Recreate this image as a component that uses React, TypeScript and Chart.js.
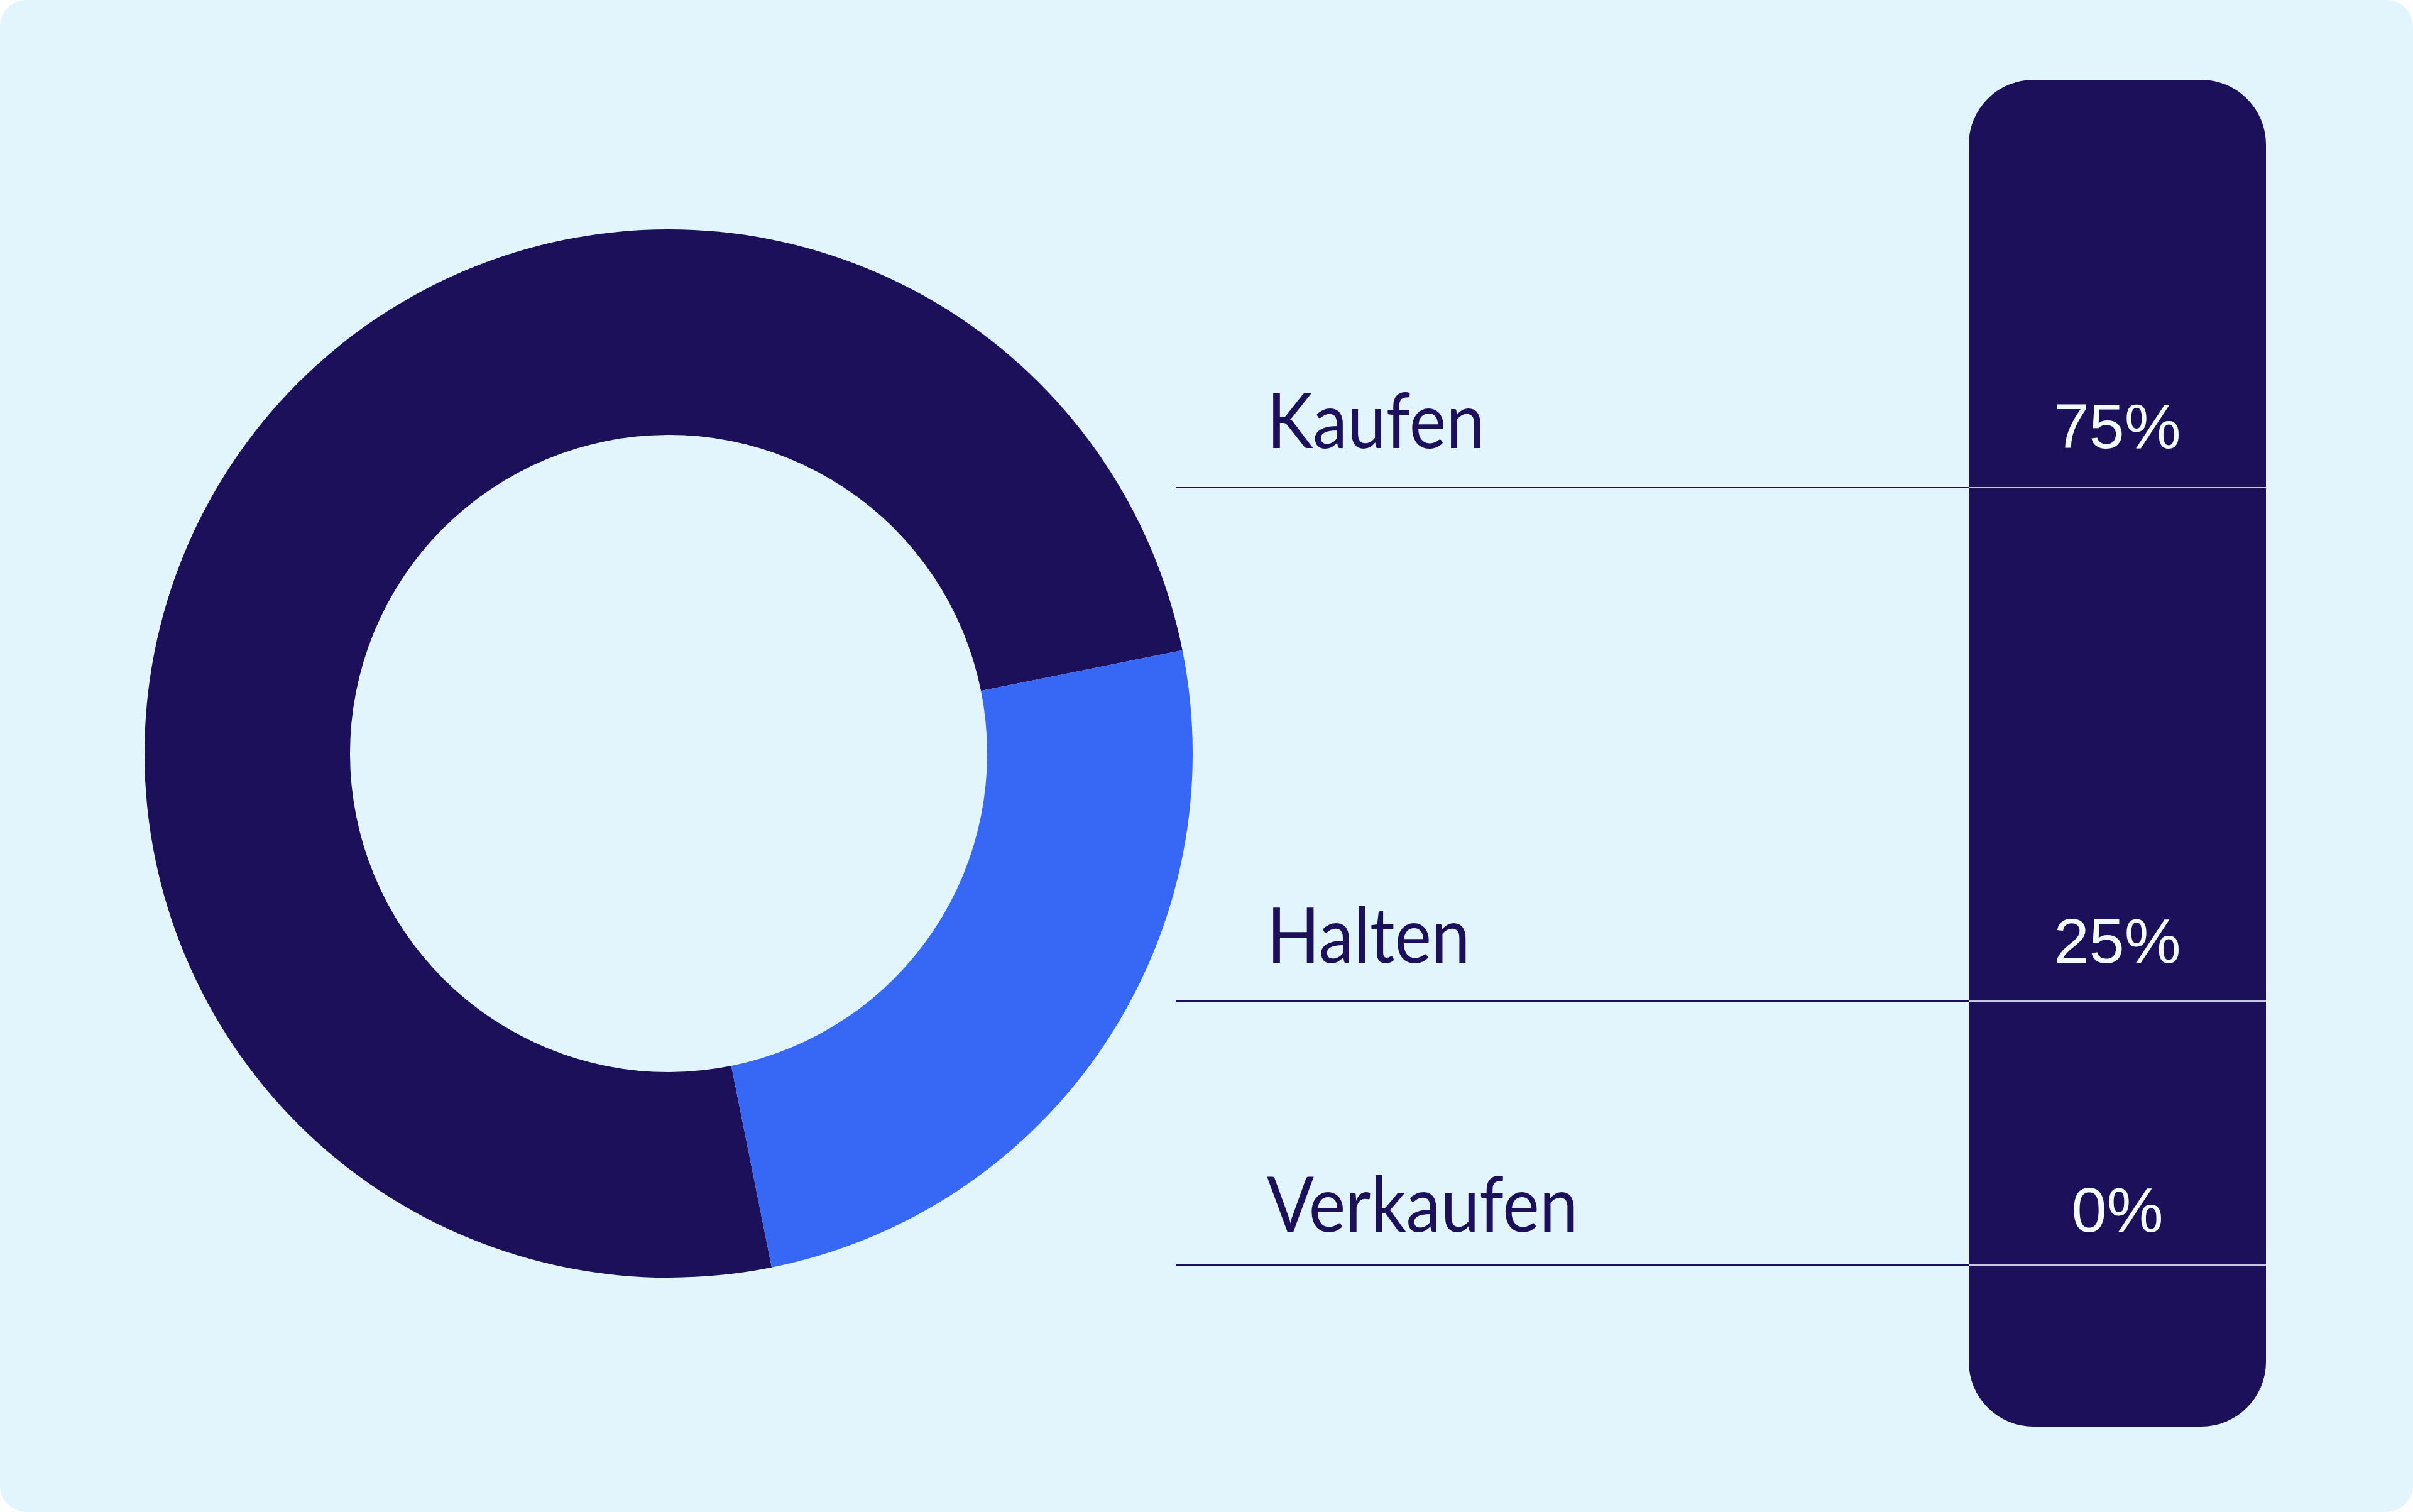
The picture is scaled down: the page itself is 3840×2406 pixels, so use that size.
import React, { useEffect, useRef } from "react";
import { Chart, registerables } from "chart.js";

Chart.register(...registerables);

// ---- data ----
const categories: string[] = ["Kaufen", "Halten", "Verkaufen"];
const shares: number[] = [75, 25, 0];
const valueLabels: string[] = ["75%", "25%", "0%"];

// ---- styles ----
const sliceColors: string[] = ["#1b1059", "#3668f5", "#9aa0c8"];
const NAVY = "#1b1059";
const CARD = "#e2f5fd";

// ---- layout (px) ----
const CHART_LEFT = 230;
const CHART_TOP = 365;
const CHART_SIZE = 1668;
const CUTOUT_PX = 507;
const ROTATION = 168.65;

const ROW_BASELINES = [713, 1532, 1960];
const ROW_LINES = [776, 1593, 2013];
const LABEL_LEFT = 2016;
const LINE_LEFT = 1871;
const PANEL_LEFT = 3133;
const PANEL_RIGHT = 3606;
const PANEL_TOP = 127;
const PANEL_BOTTOM = 2270;

const LABEL_SIZE = 123;
const VALUE_SIZE = 101;

export default function App() {
  const canvasRef = useRef<HTMLCanvasElement | null>(null);

  useEffect(() => {
    document.body.style.margin = "0";
    document.documentElement.style.overflow = "hidden";
    const canvas = canvasRef.current;
    if (!canvas) return;
    const chart = new Chart(canvas, {
      type: "doughnut",
      data: {
        labels: categories,
        datasets: [
          {
            data: shares,
            backgroundColor: sliceColors,
            borderWidth: 0,
            hoverOffset: 0,
          },
        ],
      },
      options: {
        animation: false,
        responsive: false,
        maintainAspectRatio: false,
        devicePixelRatio: 1,
        cutout: CUTOUT_PX,
        rotation: ROTATION,
        layout: { padding: 0 },
        events: [],
        plugins: {
          legend: { display: false },
          tooltip: { enabled: false },
          title: { display: false },
        },
      },
    });
    return () => chart.destroy();
  }, []);

  return (
    <div
      style={{
        position: "relative",
        width: 3840,
        height: 2406,
        background: "#ffffff",
        overflow: "hidden",
      }}
    >
      <div
        style={{
          position: "absolute",
          left: 0,
          top: 0,
          width: 3840,
          height: 2406,
          borderRadius: 42,
          background: CARD,
        }}
      />
      <canvas
        ref={canvasRef}
        width={CHART_SIZE}
        height={CHART_SIZE}
        style={{
          position: "absolute",
          left: CHART_LEFT,
          top: CHART_TOP,
          width: CHART_SIZE,
          height: CHART_SIZE,
        }}
      />
      <div
        style={{
          position: "absolute",
          left: PANEL_LEFT,
          top: PANEL_TOP,
          width: PANEL_RIGHT - PANEL_LEFT,
          height: PANEL_BOTTOM - PANEL_TOP,
          borderRadius: 103,
          background: NAVY,
        }}
      />
      {ROW_LINES.map((y, i) => (
        <React.Fragment key={"l" + i}>
          <div
            style={{
              position: "absolute",
              left: LINE_LEFT,
              top: y - 1,
              width: PANEL_LEFT - LINE_LEFT,
              height: 2,
              background: NAVY,
            }}
          />
          <div
            style={{
              position: "absolute",
              left: PANEL_LEFT,
              top: y - 1,
              width: PANEL_RIGHT - PANEL_LEFT,
              height: 2,
              background: "rgba(230,232,250,0.85)",
            }}
          />
        </React.Fragment>
      ))}
      {categories.map((c, i) => (
        <div
          key={"c" + i}
          style={{
            position: "absolute",
            left: LABEL_LEFT,
            top: ROW_BASELINES[i] - Math.round(LABEL_SIZE * 0.987),
            fontFamily: "Lato, 'Noto Sans', sans-serif",
            fontSize: LABEL_SIZE,
            lineHeight: 1.2,
            color: NAVY,
            whiteSpace: "nowrap",
            transform: "scaleX(0.9)",
            transformOrigin: "0 0",
          }}
        >
          {c}
        </div>
      ))}
      {valueLabels.map((v, i) => (
        <div
          key={"v" + i}
          style={{
            position: "absolute",
            left: PANEL_LEFT,
            width: PANEL_RIGHT - PANEL_LEFT,
            top: ROW_BASELINES[i] - Math.round(VALUE_SIZE * 0.846),
            fontFamily: "'Liberation Sans', Arimo, sans-serif",
            fontSize: VALUE_SIZE,
            lineHeight: 1,
            color: "#f4fbff",
            textAlign: "center",
            whiteSpace: "nowrap",
          }}
        >
          {v}
        </div>
      ))}
    </div>
  );
}
